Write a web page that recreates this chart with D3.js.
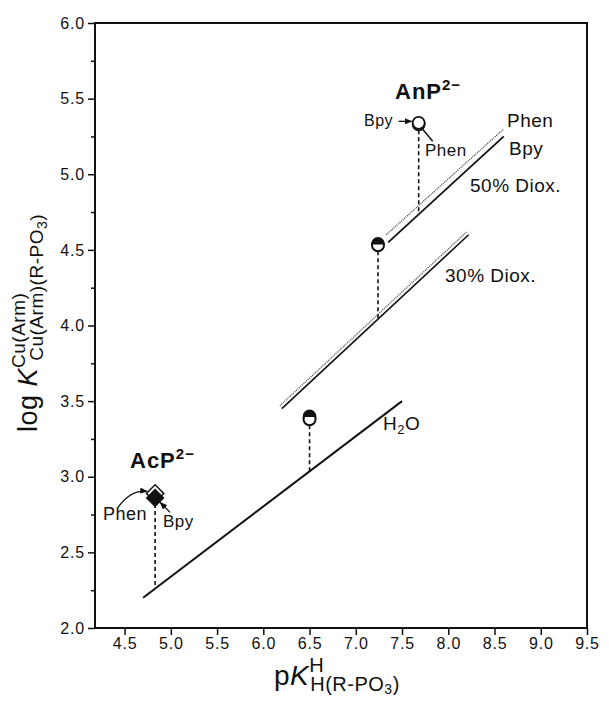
<!DOCTYPE html>
<html>
<head>
<meta charset="utf-8">
<script src="https://cdn.jsdelivr.net/npm/d3@7"></script>
<style>
  body { margin: 0; background: #fff; }
  text { font-family: "Liberation Sans", Arial, sans-serif; fill: #111; }
</style>
</head>
<body>
<div id="chart"></div>
<script>
// axis ticks
const xTicks = [4.5, 5.0, 5.5, 6.0, 6.5, 7.0, 7.5, 8.0, 8.5, 9.0, 9.5]
const yTicks = [2.0, 2.5, 3.0, 3.5, 4.0, 4.5, 5.0, 5.5, 6.0]
const yMinor = [2.25, 2.75, 3.25, 3.75, 4.25, 4.75, 5.25, 5.75]

// reference lines (pKa, logK)
const lineH2O = [[4.7, 2.2], [7.5, 3.5]]
const line30Bpy = [[6.2, 3.45], [8.22, 4.6]]
const line30Phen = [[6.18, 3.47], [8.2, 4.62]]
const line50Bpy = [[7.35, 4.55], [8.6, 5.25]]
const line50Phen = [[7.33, 4.6], [8.6, 5.3]]

// experimental points
const ligands = ['AcP', 'X30', 'X50', 'AnP']
const pKa = [4.83, 6.5, 7.24, 7.68]
const logKPhen = [2.89, 3.40, 4.54, 5.34]
const logKBpy = [2.86, 3.38, 4.53, 5.33]
const logKLine = [2.26, 3.03, 4.05, 4.73]

const width = 609
const height = 701

const svg = d3
  .select('#chart')
  .append('svg')
  .attr('width', width)
  .attr('height', height)

const x = d3.scaleLinear().domain([4.18, 9.5]).range([95, 587])
const y = d3.scaleLinear().domain([2, 6]).range([628, 23])

// frame
svg
  .append('rect')
  .attr('x', x(4.18))
  .attr('y', y(6))
  .attr('width', x(9.5) - x(4.18))
  .attr('height', y(2) - y(6))
  .attr('fill', 'none')
  .attr('stroke', '#111')
  .attr('stroke-width', 2)

const xAxis = svg
  .append('g')
  .attr('transform', `translate(0,${y(2)})`)
  .call(
    d3.axisBottom(x).tickValues(xTicks).tickSize(7).tickSizeOuter(0).tickPadding(3)
      .tickFormat(d3.format('.1f'))
  )
xAxis.select('.domain').remove()

const yAxis = svg
  .append('g')
  .attr('transform', `translate(${x(4.18)},0)`)
  .call(
    d3.axisLeft(y).tickValues(yTicks).tickSize(7).tickSizeOuter(0).tickPadding(3)
      .tickFormat(d3.format('.1f'))
  )
yAxis.select('.domain').remove()

svg
  .append('g')
  .attr('transform', `translate(${x(4.18)},0)`)
  .call(d3.axisLeft(y).tickValues(yMinor).tickSize(4).tickFormat(''))
  .select('.domain').remove()

svg.selectAll('.tick line').attr('stroke', '#111').attr('stroke-width', 1.5)
svg.selectAll('.tick text')
  .style('font-size', '16px')
  .style('letter-spacing', '0.8px')
  .style('font-family', '"Liberation Sans", Arial, sans-serif')
  .attr('fill', '#111')

// axis titles
const yLab = svg
  .append('text')
  .attr('transform', 'translate(37,323) rotate(-90)')
  .attr('text-anchor', 'middle')
  .style('font-size', '27px')
  .style('letter-spacing', '0.5px')
yLab.append('tspan').text('log ')
yLab.append('tspan').text('K').style('font-style', 'italic')
yLab.append('tspan').text('Cu(Arm)').style('font-size', '19px').attr('dy', -12)
yLab.append('tspan').text('Cu(Arm)(R-PO').style('font-size', '19px')
  .attr('dx', -68).attr('dy', 18)
yLab.append('tspan').text('3').style('font-size', '14px').attr('dy', 4)
yLab.append('tspan').text(')').style('font-size', '19px').attr('dy', -4)

const xLab = svg
  .append('text')
  .attr('x', 274)
  .attr('y', 685)
  .style('font-size', '28px')
  .style('letter-spacing', '0.5px')
xLab.append('tspan').text('p')
xLab.append('tspan').text('K').style('font-style', 'italic')
xLab.append('tspan').text('H').style('font-size', '20px').attr('dy', -13)
xLab.append('tspan').text('H(R-PO').style('font-size', '20px').attr('dx', -14).attr('dy', 19)
xLab.append('tspan').text('3').style('font-size', '14px').attr('dy', 3)
xLab.append('tspan').text(')').style('font-size', '20px').attr('dy', -3)

// lines
const line = d3.line().x(d => x(d[0])).y(d => y(d[1]))

svg.append('path').datum(lineH2O).attr('d', line)
  .attr('stroke', '#111').attr('stroke-width', 2).attr('fill', 'none')
svg.append('path').datum(line30Bpy).attr('d', line)
  .attr('stroke', '#111').attr('stroke-width', 1.6).attr('fill', 'none')
svg.append('path').datum(line30Phen).attr('d', line)
  .attr('stroke', '#555').attr('stroke-width', 1.4).attr('stroke-dasharray', '1,1').attr('fill', 'none')
svg.append('path').datum(line50Bpy).attr('d', line)
  .attr('stroke', '#111').attr('stroke-width', 1.8).attr('fill', 'none')
svg.append('path').datum(line50Phen).attr('d', line)
  .attr('stroke', '#444').attr('stroke-width', 1.3).attr('stroke-dasharray', '1,1').attr('fill', 'none')

// dashed drops from points to reference lines
svg.selectAll('.drop')
  .data(ligands)
  .enter()
  .append('line')
  .attr('x1', (d, i) => x(pKa[i]))
  .attr('x2', (d, i) => x(pKa[i]))
  .attr('y1', (d, i) => y(logKBpy[i]) + 6)
  .attr('y2', (d, i) => y(logKLine[i]))
  .attr('stroke', '#111')
  .attr('stroke-width', 1.6)
  .attr('stroke-dasharray', '4,3')

// markers
const diamond = d3.symbol().type(d3.symbolSquare).size(150)
ligands.forEach((lig, i) => {
  const cx = x(pKa[i])
  if (lig === 'AcP') {
    svg.append('path').attr('d', diamond)
      .attr('transform', `translate(${cx},${y(logKPhen[i])}) rotate(45)`)
      .attr('fill', '#fff').attr('stroke', '#111').attr('stroke-width', 1.5)
    svg.append('path').attr('d', diamond)
      .attr('transform', `translate(${cx},${y(logKBpy[i])}) rotate(45)`)
      .attr('fill', '#111').attr('stroke', '#111').attr('stroke-width', 1)
  } else if (lig === 'AnP') {
    ;[logKBpy[i], logKPhen[i]].forEach(v => {
      svg.append('circle').attr('cx', cx).attr('cy', y(v)).attr('r', 6)
        .attr('fill', '#fff').attr('stroke', '#111').attr('stroke-width', 1.8)
    })
  } else {
    const r = 6
    svg.append('circle').attr('cx', cx).attr('cy', y(logKBpy[i])).attr('r', r)
      .attr('fill', '#fff').attr('stroke', '#111').attr('stroke-width', 2)
    const cy = y(logKPhen[i])
    svg.append('path')
      .attr('d', `M${cx - r},${cy} A${r},${r} 0 0 1 ${cx + r},${cy} Z`)
      .attr('fill', '#111').attr('stroke', '#111').attr('stroke-width', 1.5)
  }
})

// arrows
svg.append('defs').append('marker')
  .attr('id', 'arr')
  .attr('viewBox', '0 0 10 10')
  .attr('refX', 9).attr('refY', 5)
  .attr('markerWidth', 6).attr('markerHeight', 6)
  .attr('orient', 'auto')
  .append('path').attr('d', 'M0,1 L10,5 L0,9 Z').attr('fill', '#111')

const acX = x(pKa[0])
const acY = y(logKPhen[0])
svg.append('path')
  .attr('d', `M${acX - 37},${acY + 14} Q${acX - 24},${acY - 4} ${acX - 8},${acY - 2}`)
  .attr('fill', 'none').attr('stroke', '#111').attr('stroke-width', 1.3)
  .attr('marker-end', 'url(#arr)')
svg.append('line')
  .attr('x1', acX + 15).attr('y1', acY + 19).attr('x2', acX + 5).attr('y2', acY + 9)
  .attr('stroke', '#111').attr('stroke-width', 1.3)
  .attr('marker-end', 'url(#arr)')

const anX = x(pKa[3])
const anY = y(logKBpy[3])
svg.append('line')
  .attr('x1', anX - 20).attr('y1', anY - 3).attr('x2', anX - 7).attr('y2', anY - 3)
  .attr('stroke', '#111').attr('stroke-width', 1.3)
  .attr('marker-end', 'url(#arr)')
svg.append('line')
  .attr('x1', anX + 4).attr('y1', anY + 5).attr('x2', anX + 14).attr('y2', anY + 17)
  .attr('stroke', '#111').attr('stroke-width', 1.5)

// labels
function label(tx, ty, str, size) {
  return svg.append('text').attr('x', tx).attr('y', ty).text(str)
    .style('font-size', size + 'px').style('letter-spacing', '0.5px')
}

const an = svg.append('text').attr('x', 395).attr('y', 99)
  .style('font-size', '22px').style('font-weight', 'bold').style('letter-spacing', '1px')
an.append('tspan').text('AnP')
an.append('tspan').text('2−').style('font-size', '15px').attr('dy', -9)

const ac = svg.append('text').attr('x', 130).attr('y', 468)
  .style('font-size', '22px').style('font-weight', 'bold').style('letter-spacing', '1px')
ac.append('tspan').text('AcP')
ac.append('tspan').text('2−').style('font-size', '15px').attr('dy', -9)

label(364, 126, 'Bpy', 16)
label(425, 156, 'Phen', 17)
label(507, 127, 'Phen', 19)
label(509, 155, 'Bpy', 19)
label(470, 192, '50% Diox.', 19)
label(445, 282, '30% Diox.', 19)
label(103, 520, 'Phen', 18)
label(163, 527, 'Bpy', 17)

const h2o = svg.append('text').attr('x', 383).attr('y', 430)
  .style('font-size', '19px').style('letter-spacing', '0.5px')
h2o.append('tspan').text('H')
h2o.append('tspan').text('2').style('font-size', '13px').attr('dy', 4)
h2o.append('tspan').text('O').attr('dy', -4)
</script>
</body>
</html>
